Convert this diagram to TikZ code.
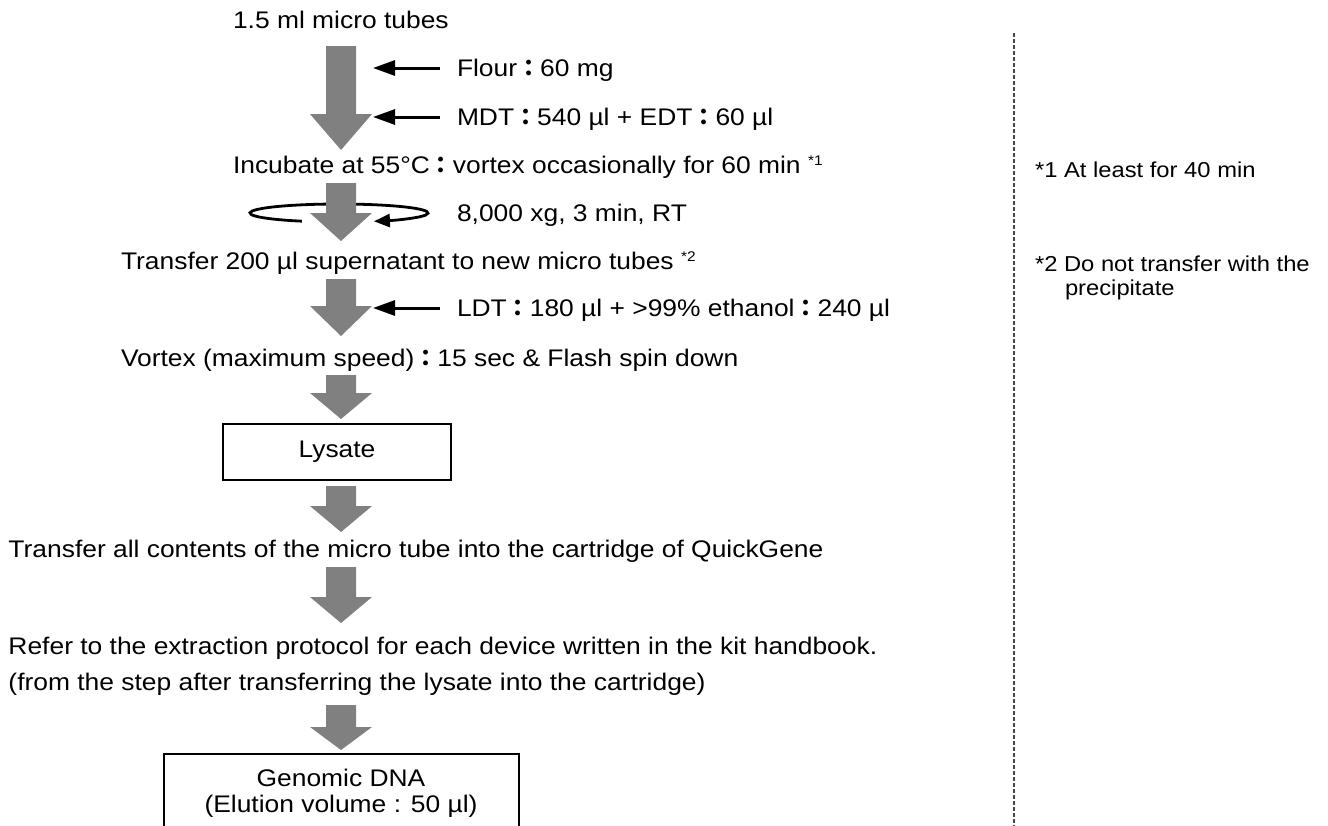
\documentclass[tikz,border=0pt]{standalone}
\usepackage{fontspec}
\setmainfont[FakeStretch=1.1]{Liberation Sans}
\newfontfamily\cjk{Noto Sans CJK JP}
\usetikzlibrary{arrows.meta}
\definecolor{arrowgray}{RGB}{128,128,128}
\definecolor{dashgray}{RGB}{70,70,70}
\newcommand{\mainsz}{\fontsize{24}{28}\selectfont}
\newcommand{\notesz}{\fontsize{21.6}{25}\selectfont}
\newcommand{\fc}{{\cjk\bfseries\fontsize{23}{27}\selectfont ：}}
\newcommand{\sups}[1]{\raisebox{8pt}{\fontsize{14}{14}\selectfont #1}}
\newcommand{\blockarrow}[3]{%
  \fill[blk] (326,#1) -- (356,#1) -- (356,#2) -- (372,#2) -- (341,#3) -- (310,#2) -- (326,#2) -- cycle;}
\begin{document}
\begin{tikzpicture}[x=1pt,y=-1pt,
  every node/.style={inner sep=0pt, outer sep=0pt},
  lbl/.style={anchor=base west, font=\mainsz},
  ctr/.style={anchor=base, font=\mainsz},
  note/.style={anchor=base west, font=\notesz},
  blk/.style={fill=arrowgray, draw=none},
  feed/.style={line width=3pt, -{Triangle[length=22pt,width=15pt]}},
  spinarr/.style={line width=2.8pt, -{Triangle[length=16pt,width=13pt]}},
  boxst/.style={draw, line width=2pt, minimum width=228pt, minimum height=56pt, font=\mainsz},
  frame/.style={draw, line width=2pt},
  dashline/.style={draw=dashgray, line width=1.1pt, dash pattern=on 3.5pt off 2.5pt}
]
\useasboundingbox (0,0) rectangle (1328,825);

% texts
\node[lbl] (tubes) at (233,28) {1.5 ml micro tubes};
\node[lbl] (flour) at (457,76.5) {Flour\fc 60 mg};
\node[lbl] (mdt) at (457,125) {MDT\fc 540 µl + EDT\fc 60 µl};
\node[lbl] (incub) at (233,173) {Incubate at 55°C\fc vortex occasionally for 60 min \sups{*1}};
\node[lbl] (spin) at (457,221) {8,000 xg, 3 min, RT};
\node[lbl] (trans) at (121,269) {Transfer 200 µl supernatant to new micro tubes \sups{*2}};
\node[lbl] (ldt) at (457,316) {LDT\fc 180 µl + >99\% ethanol\fc 240 µl};
\node[lbl] (vortex) at (121,366) {Vortex (maximum speed)\fc 15 sec \& Flash spin down};
\node[boxst] (lysate) at (337,452) {Lysate};
\node[lbl] (all) at (8.5,557) {Transfer all contents of the micro tube into the cartridge of QuickGene};
\node[lbl] (refer) at (8.5,654) {Refer to the extraction protocol for each device written in the kit handbook.};
\node[lbl] (from) at (8.5,690) {(from the step after transferring the lysate into the cartridge)};
\node[ctr] (gdna) at (341,786) {Genomic DNA};
\node[ctr] (elut) at (341,812) {(Elution volume : 50 µl)};
\draw[frame] (163.5,830) -- (163.5,754) -- (518.5,754) -- (518.5,830);

% notes column
\draw[dashline] (1014,33) -- (1014,830);
\node[note] (n1) at (1035,177) {*1 At least for 40 min};
\node[note] (n2) at (1035,271) {*2 Do not transfer with the};
\node[note] (n2b) at (1065,295) {precipitate};

% feed arrows
\coordinate (f1) at (440,68);
\coordinate (f1t) at (373,68);
\coordinate (f2) at (440,117);
\coordinate (f2t) at (373,117);
\coordinate (f3) at (440,308);
\coordinate (f3t) at (373,308);
\draw[feed] (f1) -- (f1t);
\draw[feed] (f2) -- (f2t);
\draw[feed] (f3) -- (f3t);

% centrifuge rotation
\coordinate (rot) at (339,213);
\draw[spinarr] (rot) ++(114.6:89 and 9) arc[start angle=114.6, end angle=426.9, x radius=89, y radius=9];

% block arrows
\blockarrow{46}{114}{150}
\blockarrow{183}{213}{241}
\blockarrow{279}{306}{336}
\blockarrow{375}{393}{419}
\blockarrow{486}{506}{532}
\blockarrow{567}{597}{623}
\blockarrow{705}{727}{750}
\end{tikzpicture}
\end{document}
